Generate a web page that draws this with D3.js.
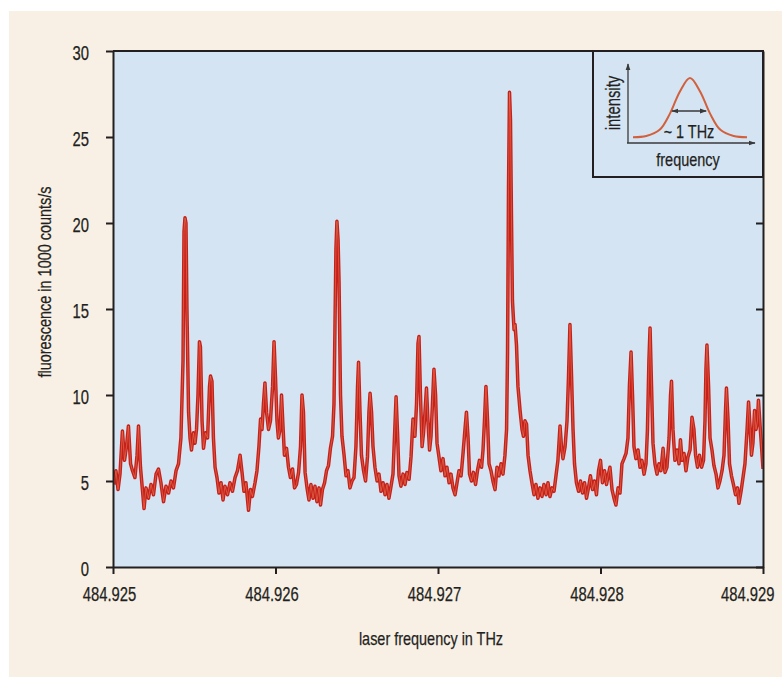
<!DOCTYPE html>
<html>
<head>
<meta charset="utf-8">
<script src="https://cdn.jsdelivr.net/npm/d3@7"></script>
<style>
  body { margin: 0; background: #fff; }
  text { font-family: "Liberation Sans", Arial, sans-serif; fill: #231f20; stroke: #231f20; stroke-width: 0.25px; }
</style>
</head>
<body>
<svg id="chart" width="782" height="677"></svg>
<script>
// laser detuning above 484.925 THz (GHz), fluorescence (1000 counts/s)
const spectrum = [
  [0.006,4.8],[0.018,5.6],[0.031,4.5],[0.043,5.4],[0.058,7.9],[0.071,6.2],[0.083,7.0],[0.095,8.2],[0.108,6.0],[0.120,5.6],
  [0.135,5.2],[0.148,6.5],[0.157,8.2],[0.169,5.8],[0.182,4.4],[0.191,3.4],[0.203,4.6],[0.218,4.0],[0.234,4.8],[0.249,4.2],
  [0.265,5.4],[0.280,5.7],[0.295,4.9],[0.311,3.8],[0.326,4.7],[0.342,4.3],[0.357,5.0],[0.372,4.6],[0.388,5.6],[0.403,6.0],
  [0.418,7.5],[0.431,12.0],[0.437,19.5],[0.443,20.3],[0.449,20.0],[0.455,15.0],[0.465,9.0],[0.474,7.5],[0.483,6.8],[0.495,7.8],
  [0.505,7.2],[0.514,8.0],[0.523,10.0],[0.532,13.1],[0.538,12.8],[0.548,8.5],[0.557,6.9],[0.569,7.8],[0.582,7.5],[0.594,10.5],
  [0.600,11.1],[0.609,10.8],[0.618,7.5],[0.628,5.8],[0.640,5.2],[0.652,4.3],[0.665,4.9],[0.677,3.9],[0.689,4.7],[0.705,4.2],
  [0.720,4.9],[0.735,4.4],[0.751,5.2],[0.766,5.6],[0.782,6.5],[0.794,5.5],[0.806,4.4],[0.818,4.9],[0.834,3.3],[0.846,4.5],
  [0.858,4.1],[0.874,4.9],[0.886,5.6],[0.898,7.0],[0.908,8.6],[0.917,8.0],[0.926,9.5],[0.935,10.7],[0.945,9.0],[0.957,8.0],
  [0.969,8.5],[0.982,10.5],[0.991,13.1],[1.000,11.0],[1.009,8.5],[1.018,7.5],[1.028,8.0],[1.037,10.0],[1.046,8.2],[1.055,6.5],
  [1.068,6.9],[1.080,5.8],[1.092,5.2],[1.105,5.7],[1.117,4.6],[1.129,4.8],[1.142,5.5],[1.154,7.0],[1.163,10.0],[1.172,9.0],
  [1.182,5.5],[1.194,4.6],[1.206,3.9],[1.218,4.8],[1.231,4.0],[1.243,4.7],[1.255,3.8],[1.268,4.6],[1.277,3.6],[1.289,4.5],
  [1.302,4.9],[1.314,5.6],[1.326,5.9],[1.338,6.9],[1.351,7.6],[1.360,9.5],[1.366,14.0],[1.372,18.5],[1.378,20.1],[1.385,19.0],
  [1.391,16.6],[1.400,10.0],[1.409,7.6],[1.422,6.5],[1.434,5.3],[1.446,5.6],[1.458,4.6],[1.471,5.0],[1.483,5.2],[1.495,7.0],
  [1.505,10.5],[1.511,11.9],[1.520,9.0],[1.529,6.5],[1.542,5.6],[1.554,5.0],[1.566,6.4],[1.575,9.0],[1.582,10.1],[1.591,9.0],
  [1.600,7.0],[1.612,5.8],[1.625,5.0],[1.637,5.4],[1.649,4.4],[1.662,4.9],[1.674,4.2],[1.686,4.8],[1.698,4.0],[1.711,4.7],
  [1.723,5.4],[1.732,7.5],[1.742,9.9],[1.751,7.8],[1.760,5.3],[1.772,4.7],[1.785,5.4],[1.797,4.8],[1.809,5.5],[1.822,5.1],
  [1.834,6.4],[1.846,8.6],[1.858,7.6],[1.868,9.5],[1.877,13.0],[1.883,13.4],[1.892,10.0],[1.902,7.0],[1.911,7.8],[1.920,9.0],
  [1.929,10.4],[1.938,8.5],[1.948,6.8],[1.957,7.6],[1.966,9.5],[1.975,11.5],[1.985,10.0],[1.994,7.2],[2.006,6.4],[2.018,5.6],
  [2.031,6.3],[2.043,5.3],[2.055,5.8],[2.068,4.9],[2.080,5.4],[2.092,4.6],[2.105,4.2],[2.117,4.9],[2.129,5.6],[2.142,5.3],
  [2.154,6.6],[2.166,8.0],[2.175,9.0],[2.185,7.5],[2.194,5.4],[2.206,5.0],[2.218,5.5],[2.231,4.8],[2.243,5.6],[2.255,6.2],
  [2.268,5.8],[2.277,6.8],[2.286,8.5],[2.295,10.5],[2.305,8.5],[2.314,6.0],[2.326,5.6],[2.338,5.0],[2.351,4.5],[2.363,5.8],
  [2.375,5.3],[2.388,6.0],[2.400,5.4],[2.412,6.5],[2.422,8.0],[2.428,12.5],[2.434,22.0],[2.440,27.6],[2.446,26.0],[2.452,20.4],
  [2.458,15.5],[2.468,13.8],[2.474,14.1],[2.483,12.9],[2.492,10.5],[2.505,9.1],[2.517,8.0],[2.526,7.6],[2.535,8.5],[2.545,8.3],
  [2.554,6.5],[2.566,5.6],[2.578,4.9],[2.591,4.2],[2.603,4.8],[2.615,4.0],[2.628,4.6],[2.640,4.1],[2.652,4.8],[2.665,4.2],
  [2.677,4.9],[2.689,4.1],[2.702,4.6],[2.714,4.4],[2.726,5.3],[2.738,6.2],[2.751,8.2],[2.760,7.0],[2.769,6.3],[2.782,7.0],
  [2.794,8.5],[2.803,11.0],[2.812,14.1],[2.822,11.0],[2.831,8.0],[2.840,6.0],[2.852,4.9],[2.865,4.4],[2.877,5.0],[2.889,4.3],
  [2.902,4.9],[2.914,4.0],[2.926,4.6],[2.938,5.3],[2.951,4.5],[2.963,5.0],[2.975,4.2],[2.988,5.6],[3.000,6.2],[3.012,4.9],
  [3.025,5.6],[3.037,4.8],[3.049,5.4],[3.058,5.8],[3.071,4.5],[3.083,4.0],[3.095,3.6],[3.108,4.6],[3.120,4.3],[3.132,6.0],
  [3.145,6.3],[3.157,6.6],[3.169,7.5],[3.178,10.5],[3.188,12.5],[3.197,10.0],[3.206,7.0],[3.218,6.3],[3.231,6.8],[3.243,5.8],
  [3.255,6.2],[3.268,5.4],[3.280,6.0],[3.289,8.0],[3.298,12.0],[3.305,13.9],[3.314,10.5],[3.323,7.2],[3.335,6.0],[3.348,5.4],
  [3.360,6.0],[3.372,5.6],[3.385,6.9],[3.397,5.5],[3.409,5.8],[3.422,7.5],[3.431,10.0],[3.437,10.8],[3.446,8.0],[3.458,6.2],
  [3.471,6.8],[3.483,6.0],[3.492,7.4],[3.502,6.2],[3.514,6.6],[3.526,5.6],[3.538,6.4],[3.551,6.8],[3.563,8.7],[3.575,8.0],
  [3.585,6.5],[3.597,5.8],[3.609,6.5],[3.622,5.8],[3.634,6.2],[3.643,8.5],[3.649,11.5],[3.655,12.9],[3.665,10.5],[3.674,7.5],
  [3.686,6.8],[3.698,5.9],[3.711,5.4],[3.723,4.6],[3.735,5.0],[3.748,5.6],[3.760,6.5],[3.769,9.0],[3.775,10.4],[3.785,8.5],
  [3.794,6.0],[3.806,5.3],[3.818,4.8],[3.831,4.2],[3.843,4.6],[3.852,3.7],[3.865,4.4],[3.877,5.2],[3.889,6.0],[3.902,8.0],
  [3.911,9.6],[3.920,8.2],[3.929,6.5],[3.938,7.2],[3.948,9.1],[3.957,8.0],[3.966,8.5],[3.972,9.7],[3.982,8.2],[3.991,7.0],
  [4.000,5.7]
];
const baseFreq = 484.925;
const xTicks = [484.925, 484.926, 484.927, 484.928, 484.929];
const yTicks = [0, 5, 10, 15, 20, 25, 30];

// inset sketch: laser line profile (relative units)
const insetCurve = [[-3,0.03],[-2.3,0.05],[-1.6,0.15],[-1.05,0.42],[-0.53,0.78],[0,1],[0.53,0.78],[1.05,0.42],[1.6,0.15],[2.3,0.05],[3,0.03]];
const insetWidth = [-0.95, 0.85];

const svg = d3.select("#chart");
const plot = { left: 113, right: 763, top: 51, bottom: 567 };

// squeeze text horizontally to mimic the condensed typeface
const condense = (sel, k = 0.76) => sel.each(function () {
  const w = this.getComputedTextLength();
  d3.select(this).attr("textLength", w * k).attr("lengthAdjust", "spacingAndGlyphs");
});

const x = d3.scaleLinear([baseFreq, 484.929], [plot.left, plot.right]);
const y = d3.scaleLinear([0, 30], [plot.bottom, plot.top]);

// page panel
svg.append("rect").attr("x", 9).attr("y", 11).attr("width", 773).attr("height", 666).attr("fill", "#f8f0e5");
svg.append("rect")
  .attr("x", plot.left).attr("y", plot.top)
  .attr("width", plot.right - plot.left).attr("height", plot.bottom - plot.top)
  .attr("fill", "#d4e4f2");

svg.append("clipPath").attr("id", "clip").append("rect")
  .attr("x", plot.left).attr("y", plot.top)
  .attr("width", plot.right - plot.left).attr("height", plot.bottom - plot.top);

const line = d3.line()
  .x(d => x(baseFreq + d[0] * 0.001))
  .y(d => y(d[1]));

const trace = svg.append("g").attr("clip-path", "url(#clip)");
trace.append("path").datum(spectrum)
  .attr("d", line).attr("fill", "none")
  .attr("stroke", "#c6201a").attr("stroke-width", 3.5).attr("stroke-linejoin", "round");
trace.append("path").datum(spectrum)
  .attr("d", line).attr("fill", "none")
  .attr("stroke", "#ec8a62").attr("stroke-width", 0.7).attr("stroke-opacity", 0.7);

// axes
const axisStyle = g => {
  g.select(".domain").attr("stroke", "#231f20").attr("stroke-width", 2);
  g.selectAll(".tick line").attr("stroke", "#231f20").attr("stroke-width", 2);
  g.selectAll("text").attr("font-size", 19.5).attr("fill", "#231f20")
    .attr("font-family", null);
};

const last = xTicks.length - 1;
svg.append("g")
  .attr("transform", `translate(0,${plot.bottom})`)
  .call(d3.axisBottom(x).tickValues(xTicks).tickFormat(d3.format(".3f")).tickSizeInner(7).tickSizeOuter(0).tickPadding(13))
  .call(axisStyle)
  .call(g => g.selectAll(".tick text")
    .attr("text-anchor", (d, i) => i === last ? "end" : "middle")
    .attr("dx", (d, i) => i === last ? 11 : -4)
    .call(condense));

svg.append("g")
  .attr("transform", `translate(${plot.left},0)`)
  .call(d3.axisLeft(y).tickValues(yTicks).tickSizeInner(7).tickSizeOuter(0).tickPadding(17))
  .call(axisStyle)
  .call(g => g.selectAll(".tick text").attr("dy", "0.45em").call(condense));

svg.append("g")
  .attr("transform", `translate(${plot.right},0)`)
  .call(d3.axisLeft(y).tickValues(yTicks).tickSizeInner(7).tickSizeOuter(0).tickFormat(""))
  .call(axisStyle);

svg.append("line")
  .attr("x1", plot.left).attr("x2", plot.right + 1)
  .attr("y1", plot.top).attr("y2", plot.top)
  .attr("stroke", "#231f20").attr("stroke-width", 2);

// axis titles
svg.append("text")
  .attr("transform", "translate(51,282) rotate(-90)")
  .attr("text-anchor", "middle").attr("font-size", 19)
  .text("fluorescence in 1000 counts/s").call(condense);

svg.append("text")
  .attr("x", 431).attr("y", 645)
  .attr("text-anchor", "middle").attr("font-size", 19)
  .text("laser frequency in THz").call(condense);

// inset
const inset = svg.append("g");
inset.append("rect")
  .attr("x", 593).attr("y", plot.top)
  .attr("width", plot.right - 593).attr("height", 177 - plot.top)
  .attr("fill", "#d4e4f2").attr("stroke", "#231f20").attr("stroke-width", 2);

const ix = d3.scaleLinear([-3, 3], [633, 747]);
const iy = d3.scaleLinear([0, 1], [139, 78]);

const defs = svg.append("defs");
defs.append("marker").attr("id", "arrow")
  .attr("viewBox", "0 0 10 10").attr("refX", 9).attr("refY", 5)
  .attr("markerWidth", 7).attr("markerHeight", 7).attr("orient", "auto-start-reverse")
  .attr("markerUnits", "userSpaceOnUse")
  .append("path").attr("d", "M0,1.5L10,5L0,8.5Z").attr("fill", "#3a3a3a");

inset.append("line")
  .attr("x1", 628).attr("y1", 143).attr("x2", 628).attr("y2", 64)
  .attr("stroke", "#3a3a3a").attr("stroke-width", 1.3).attr("marker-end", "url(#arrow)");
inset.append("line")
  .attr("x1", 627).attr("y1", 143).attr("x2", 755).attr("y2", 143)
  .attr("stroke", "#3a3a3a").attr("stroke-width", 1.3).attr("marker-end", "url(#arrow)");

inset.append("path").datum(insetCurve)
  .attr("d", d3.line().x(d => ix(d[0])).y(d => iy(d[1])).curve(d3.curveCatmullRom))
  .attr("fill", "none").attr("stroke", "#d2603c").attr("stroke-width", 2);

inset.append("line")
  .attr("x1", ix(insetWidth[0])).attr("x2", ix(insetWidth[1]))
  .attr("y1", 111).attr("y2", 111)
  .attr("stroke", "#3a3a3a").attr("stroke-width", 1.3)
  .attr("marker-start", "url(#arrow)").attr("marker-end", "url(#arrow)");

inset.append("text")
  .attr("x", 689).attr("y", 138).attr("text-anchor", "middle").attr("font-size", 19)
  .text("~ 1 THz").call(condense);
inset.append("text")
  .attr("x", 688).attr("y", 166).attr("text-anchor", "middle").attr("font-size", 19)
  .text("frequency").call(condense);
inset.append("text")
  .attr("transform", "translate(620,103) rotate(-90)")
  .attr("text-anchor", "middle").attr("font-size", 19.5)
  .text("intensity").call(condense);
</script>
</body>
</html>
